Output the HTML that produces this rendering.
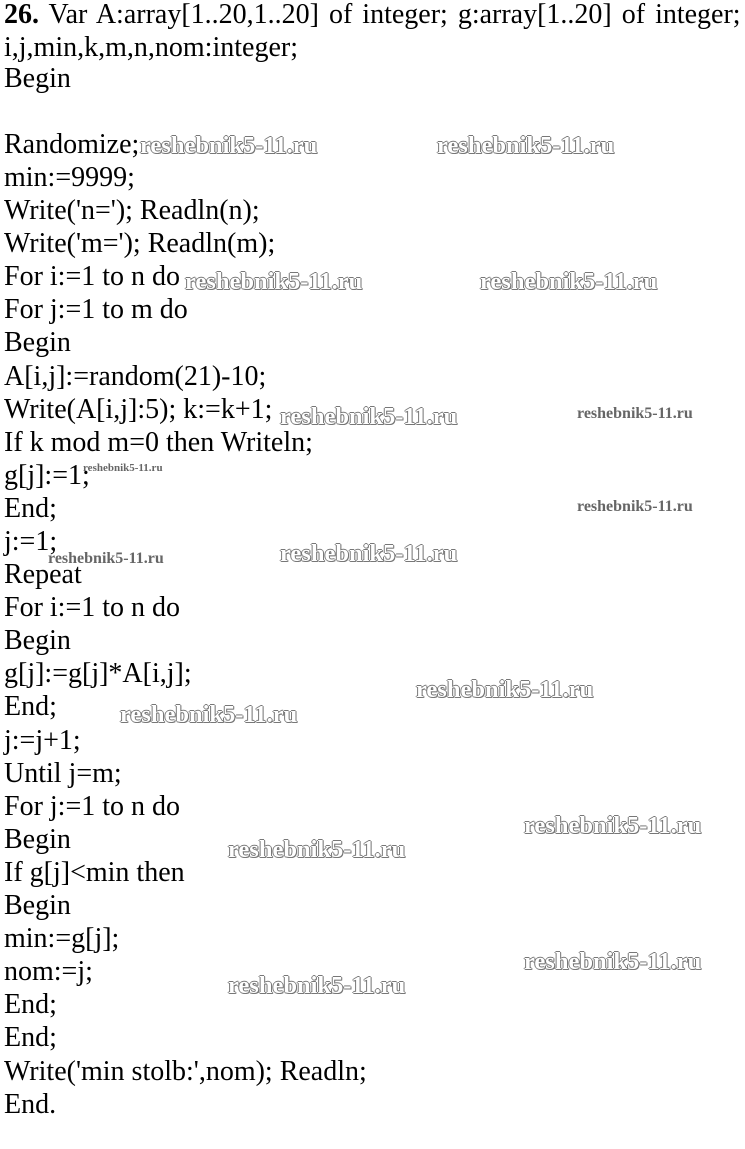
<!DOCTYPE html>
<html><head><meta charset="utf-8"><style>
html,body{margin:0;padding:0;background:#fff;}
body{width:745px;height:1149px;position:relative;overflow:hidden;font-family:"Liberation Serif",serif;color:#000;}
.l{position:absolute;left:4px;font-size:28px;line-height:33px;white-space:pre;}
.w{position:absolute;font-family:"Liberation Serif",serif;font-weight:bold;color:#fff;font-size:24.5px;white-space:nowrap;
text-shadow:-1px 0 #777,1px 0 #777,0 -1px #777,0 1px #777,1px 1px #777;}
.s{font-size:16px;text-shadow:none;color:#666;}
.t{font-size:11px;text-shadow:none;color:#666;}
</style></head><body>
<div class="l" style="top:-2px;word-spacing:3px"><b>26.</b> Var A:array[1..20,1..20] of integer; g:array[1..20] of integer;</div>
<div class="l" style="top:31px">i,j,min,k,m,n,nom:integer;</div>
<div class="l" style="top:62px">Begin</div>
<div class="l" style="top:128px">Randomize;</div>
<div class="l" style="top:161px">min:=9999;</div>
<div class="l" style="top:194px">Write('n='); Readln(n);</div>
<div class="l" style="top:227px">Write('m='); Readln(m);</div>
<div class="l" style="top:260px">For i:=1 to n do</div>
<div class="l" style="top:293px">For j:=1 to m do</div>
<div class="l" style="top:326px">Begin</div>
<div class="l" style="top:360px">A[i,j]:=random(21)-10;</div>
<div class="l" style="top:393px">Write(A[i,j]:5); k:=k+1;</div>
<div class="l" style="top:426px">If k mod m=0 then Writeln;</div>
<div class="l" style="top:459px">g[j]:=1;</div>
<div class="l" style="top:492px">End;</div>
<div class="l" style="top:525px">j:=1;</div>
<div class="l" style="top:558px">Repeat</div>
<div class="l" style="top:591px">For i:=1 to n do</div>
<div class="l" style="top:624px">Begin</div>
<div class="l" style="top:657px">g[j]:=g[j]*A[i,j];</div>
<div class="l" style="top:690px">End;</div>
<div class="l" style="top:724px">j:=j+1;</div>
<div class="l" style="top:757px">Until j=m;</div>
<div class="l" style="top:790px">For j:=1 to n do</div>
<div class="l" style="top:823px">Begin</div>
<div class="l" style="top:856px">If g[j]&lt;min then</div>
<div class="l" style="top:889px">Begin</div>
<div class="l" style="top:922px">min:=g[j];</div>
<div class="l" style="top:955px">nom:=j;</div>
<div class="l" style="top:988px">End;</div>
<div class="l" style="top:1021px">End;</div>
<div class="l" style="top:1055px">Write('min stolb:',nom); Readln;</div>
<div class="l" style="top:1088px">End.</div>

<div class="w" style="left:140px;top:132px">reshebnik5-11.ru</div>
<div class="w" style="left:437px;top:132px">reshebnik5-11.ru</div>
<div class="w" style="left:185px;top:268px">reshebnik5-11.ru</div>
<div class="w" style="left:480px;top:268px">reshebnik5-11.ru</div>
<div class="w" style="left:280px;top:403px">reshebnik5-11.ru</div>
<div class="w s" style="left:577px;top:405px">reshebnik5-11.ru</div>
<div class="w t" style="left:83px;top:462px">reshebnik5-11.ru</div>
<div class="w s" style="left:577px;top:498px">reshebnik5-11.ru</div>
<div class="w s" style="left:48px;top:550px">reshebnik5-11.ru</div>
<div class="w" style="left:280px;top:540px">reshebnik5-11.ru</div>
<div class="w" style="left:416px;top:676px">reshebnik5-11.ru</div>
<div class="w" style="left:120px;top:701px">reshebnik5-11.ru</div>
<div class="w" style="left:524px;top:812px">reshebnik5-11.ru</div>
<div class="w" style="left:228px;top:836px">reshebnik5-11.ru</div>
<div class="w" style="left:524px;top:948px">reshebnik5-11.ru</div>
<div class="w" style="left:228px;top:972px">reshebnik5-11.ru</div>
</body></html>
